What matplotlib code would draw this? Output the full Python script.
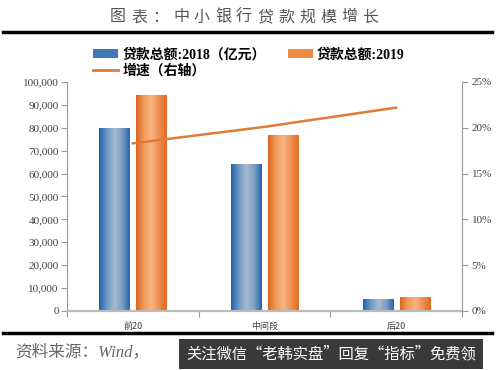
import matplotlib
matplotlib.use("Agg")
import matplotlib.pyplot as plt
import numpy as np
from matplotlib.colors import LinearSegmentedColormap
from matplotlib.patches import Patch
from matplotlib.lines import Line2D

categories = ["前20", "中间段", "后20"]
loans_2018 = [80000, 64000, 5200]
loans_2019 = [94500, 77000, 6200]
growth = [18.3, 20.1, 22.2]
left_ticks = [0, 10000, 20000, 30000, 40000, 50000, 60000, 70000, 80000, 90000, 100000]
right_ticks = [0, 5, 10, 15, 20, 25]

FAM = ["Liberation Serif", "Noto Sans CJK SC"]
CJK = ["Noto Sans CJK SC", "DejaVu Sans"]

fig = plt.figure(figsize=(5, 3.7), dpi=100)
ax = fig.add_axes([0.134, 0.1595, 0.79, 0.619])

x = np.arange(len(categories))
w = 0.228
off = 0.14

blue_cmap = LinearSegmentedColormap.from_list("b", ["#1F63AE", "#6F98C4", "#A3BACF", "#7FA0C4", "#2466B0"])
orange_cmap = LinearSegmentedColormap.from_list("o", ["#DD6520", "#F19A5C", "#F8B584", "#EE9050", "#E06A22"])
grad = np.linspace(0, 1, 64).reshape(1, -1)

def grad_bars(xs, vals, cmap):
    bars = ax.bar(xs, vals, w, color="none", edgecolor="none", zorder=2)
    for b in bars:
        x0, y0 = b.get_x(), b.get_y()
        im = ax.imshow(grad, cmap=cmap, aspect="auto", extent=[x0, x0 + b.get_width(), y0, y0 + b.get_height()], zorder=2)
        im.set_clip_path(b)
    return bars

grad_bars(x - off, loans_2018, blue_cmap)
grad_bars(x + off, loans_2019, orange_cmap)

ax.set_xlim(-0.5, 2.5)
ax.set_ylim(0, 100000)
ax.set_yticks(left_ticks)
ax.set_yticklabels([f"{v:,}" for v in left_ticks], family=FAM, fontsize=8, color="#404040")
ax.set_xticks([-0.5, 0.5, 1.5, 2.5])
ax.set_xticklabels([])
ax.set_xticks(x, minor=True)
ax.set_xticklabels(categories, minor=True, family=CJK, fontsize=6.5, color="#404040")
ax.tick_params(axis="x", which="minor", length=0, pad=8)
ax.tick_params(axis="x", which="major", length=4, direction="out", color="#999999")
ax.tick_params(axis="y", length=4, direction="out", color="#999999", pad=2)
for s in ["top", "right"]:
    ax.spines[s].set_visible(False)
for s in ["left", "bottom"]:
    ax.spines[s].set_color("#999999")
ax.spines["bottom"].set_linewidth(1.6)
ax.spines["bottom"].set_color("#BBBBBB")

ax2 = ax.twinx()
ax2.plot(x, growth, color="#E07B39", lw=1.8, zorder=3)
ax2.set_ylim(0, 25)
ax2.set_yticks(right_ticks)
ax2.set_yticklabels([f"{v}%" for v in right_ticks], family=FAM, fontsize=8, color="#404040")
ax2.tick_params(axis="y", length=4, direction="out", color="#999999", pad=3)
for s in ["top", "left", "bottom"]:
    ax2.spines[s].set_visible(False)
ax2.spines["right"].set_color("#999999")

handles = [Patch(facecolor="#3F78B6", edgecolor="none"),
           Line2D([], [], color="#E07B39", lw=2),
           Patch(facecolor="#EE8A45", edgecolor="none")]
labels = ["贷款总额:2018（亿元）", "增速（右轴）", "贷款总额:2019"]
fig.legend(handles, labels, ncol=2, loc="upper left", bbox_to_anchor=(0.175, 0.885),
           frameon=False, prop={"family": FAM, "weight": "bold", "size": 10},
           handlelength=1.8, handleheight=0.6, handletextpad=0.3, columnspacing=1.6,
           labelspacing=0.15, borderaxespad=0)

title = "图表：中小银行贷款规模增长"
for i, ch in enumerate(title):
    fig.text((110 + 21 * i + 8) / 500, 1 - 17 / 370, ch, family=CJK, fontsize=11.5,
             color="#555555", ha="center", va="center")

fig.add_artist(Line2D([3 / 500, 492 / 500], [1 - 32 / 370] * 2, color="black", lw=2.5))
fig.add_artist(Line2D([3 / 500, 492 / 500], [1 - 333 / 370] * 2, color="black", lw=2.5))

fig.text(15 / 500, 1 - 352 / 370, "资料来源：Wind，", family=FAM, fontsize=12,
         color="#666666", style="italic", ha="left", va="center")
fig.text(186 / 500, 1 - 354 / 370, "关注微信“老韩实盘”回复“指标”免费领", family=CJK, fontsize=11,
         color="white", ha="left", va="center",
         bbox=dict(boxstyle="square,pad=0.45", facecolor="#3A3A3A", edgecolor="none"))

fig.savefig("out.png", dpi=100)
